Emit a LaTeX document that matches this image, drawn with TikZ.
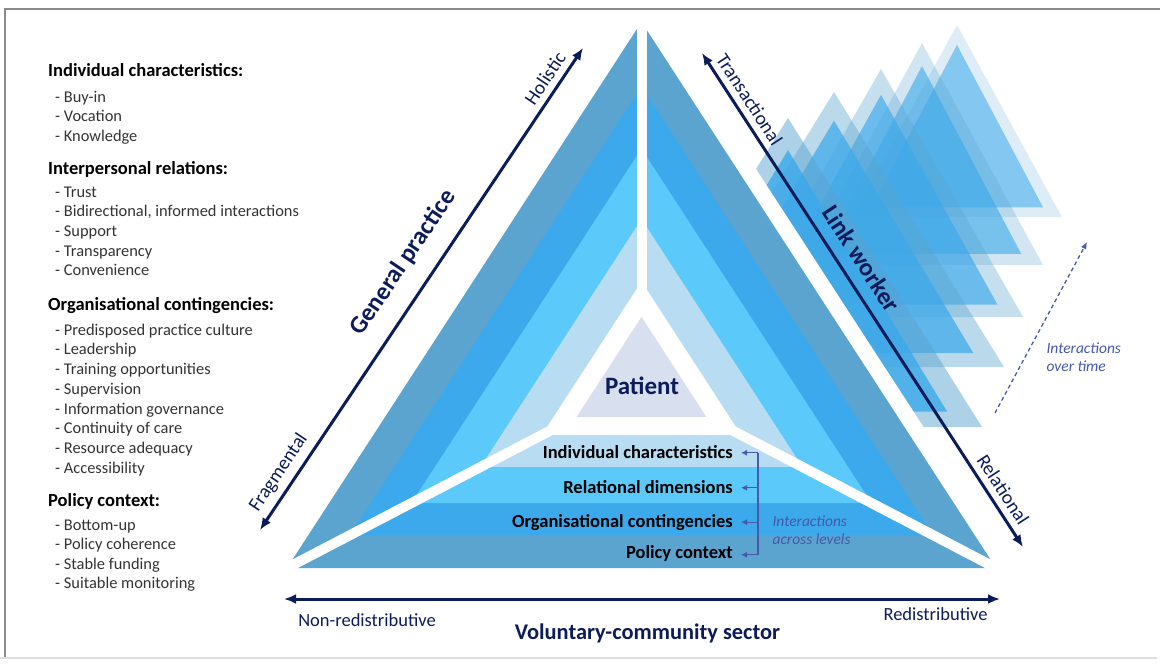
\documentclass[tikz,border=0pt]{standalone}
\usepackage{fontspec}
\setmainfont{Carlito}
\usepackage{tikz}
\usetikzlibrary{calc, positioning, arrows.meta}

\definecolor{navy}{HTML}{0C1C5A}
\definecolor{steel}{HTML}{5BA4CF}
\definecolor{bright}{HTML}{3BA9EB}
\definecolor{cyanband}{HTML}{5BC9F9}
\definecolor{pale}{HTML}{B8DCF2}
\definecolor{patientfill}{HTML}{D8DFEF}
\definecolor{softnavy}{HTML}{4759A8}
\definecolor{listgray}{HTML}{333333}
\definecolor{framegray}{HTML}{8C8C8C}

\tikzset{
  spectrum/.style={navy, line width=3pt, {Latex[length=12pt,width=10pt]}-{Latex[length=12pt,width=10pt]}},
  poletext/.style={navy, font=\fontsize{19.5}{22}\selectfont, sloped, above=#1},
  poletext/.default=3pt,
  sectortext/.style={navy, font=\bfseries\fontsize{25}{28}\selectfont, sloped, above=#1},
  sectortext/.default=8pt,
  sepline/.style={white, line width=10pt},
  bandlabel/.style={anchor=base east, inner sep=0pt, font=\bfseries\fontsize{18.5}{22}\selectfont},
  tie/.style={softnavy, line width=1.3pt},
  tiearrow/.style={tie, -{Latex[length=6pt,width=6pt]}, shorten >=8pt},
  remark/.style={softnavy, align=left, anchor=west, font=\itshape\fontsize{15.5}{18}\selectfont},
  listhead/.style={anchor=base west, inner sep=0pt, font=\bfseries\fontsize{18.5}{22}\selectfont},
  listitem/.style={anchor=base west, inner sep=0pt, text=listgray, font=\fontsize{16.4}{19.7}\selectfont},
  endtext/.style={navy, anchor=base, font=\fontsize{18.5}{22}\selectfont},
}

\begin{document}
\begin{tikzpicture}[x=1pt, y=-1pt]
\useasboundingbox (0,0) rectangle (1160,671);

% link worker contacts piling up over time
\foreach \gx/\gy/\gb/\gw/\go/\gi in {957/25/217/105/0.2/0.55, 922/43/265/121/0.28/0.6, 881/69/317/142/0.35/0.65, 834/92/367/170/0.42/0.72, 788/118/427/194/0.5/0.8}{
  \fill[steel, opacity=\go] (\gx,\gy) -- ({\gx+\gw},\gb) -- ({\gx-\gw},\gb) -- cycle;
  \fill[bright, opacity=\gi] (\gx,{\gy+0.104*(\gb-\gy)}) -- ({\gx+0.82*\gw},{\gb-0.05*(\gb-\gy)}) -- ({\gx-0.82*\gw},{\gb-0.05*(\gb-\gy)}) -- cycle;
}

% main triangle
\coordinate (A) at (641.5,22);
\coordinate (BL) at (287,568);
\coordinate (BR) at (996,568);
\coordinate (P) at (641.5,383);
\draw[white, line width=32pt, line join=round] (A) -- (BR) -- (BL) -- cycle;
\foreach \sc/\bandcol in {1/steel, 0.822/bright, 0.649/cyanband, 0.454/pale, 0.281/white}
  \fill[\bandcol] ($(P)!\sc!(A)$) -- ($(P)!\sc!(BR)$) -- ($(P)!\sc!(BL)$) -- cycle;
\draw[sepline] (A) -- (P);
\draw[sepline] (BL) -- (P);
\draw[sepline] (BR) -- (P);
\fill[patientfill] ($(P)!0.183!(A)$) -- ($(P)!0.183!(BR)$) -- ($(P)!0.183!(BL)$) -- cycle;
\node[navy, anchor=base, font=\bfseries\fontsize{25}{28}\selectfont] (patient) at (642,394) {Patient};

% levels
\node[bandlabel] (indiv) at (733,458.3) {Individual characteristics};
\node[bandlabel] (reldim) at (733,493.3) {Relational dimensions};
\node[bandlabel] (orgcon) at (733,527.7) {Organisational contingencies};
\node[bandlabel] (polcon) at (733,558.3) {Policy context};
\coordinate (br1) at ($(indiv.base east)+(25,-5.5)$);
\coordinate (br2) at ($(reldim.base east)+(25,-5.5)$);
\coordinate (br3) at ($(orgcon.base east)+(25,-5.5)$);
\coordinate (br4) at ($(polcon.base east)+(25,-3.5)$);
\draw[tie] (br1) -- (br4);
\draw[tiearrow] (br1) -- (br1 -| indiv.east);
\draw[tiearrow] (br2) -- (br2 -| reldim.east);
\draw[tiearrow] (br3) -- (br3 -| orgcon.east);
\draw[tiearrow] (br4) -- (br4 -| polcon.east);
\node[remark] (acrosslv) at (769,530) {Interactions\\across levels};

% the three axes
\coordinate (gpLo) at (260,530);
\coordinate (gpHi) at (583,48);
\coordinate (lwHi) at (702,53);
\coordinate (lwLo) at (1023,547);
\coordinate (vsL) at (284,599);
\coordinate (vsR) at (1000,599);
\draw[spectrum] (gpLo) -- node[poletext, pos=0.10] (fragm) {Fragmental}
  node[sectortext=14pt, pos=0.52] (genprac) {General practice}
  node[poletext, pos=0.92] (holis) {Holistic} (gpHi);
\draw[spectrum] (lwHi) -- node[poletext, pos=0.11] (transac) {Transactional}
  node[sectortext, pos=0.44] (linkw) {Link worker}
  node[poletext, pos=0.90] (relat) {Relational} (lwLo);
\draw[spectrum] (vsL) -- (vsR);
\node[endtext] (nonred) at (367,626) {Non-redistributive};
\node[endtext] (redis) at (935.5,620.7) {Redistributive};
\node[endtext, font=\bfseries\fontsize{22.4}{26}\selectfont] (vcs) at (647.5,639) {Voluntary-community sector};

% over time
\coordinate (tLo) at (995,413);
\coordinate (tHi) at (1087,242);
\draw[softnavy, line width=1.3pt, dash pattern=on 4pt off 3pt, -{Latex[length=7pt,width=6pt]}] (tLo) -- (tHi);
\node[remark] (overtime) at (1043,357) {Interactions\\over time};

% factor list
\node[listhead] (hd1) at (48,77) {Individual characteristics:};
\foreach \t [count=\i from 0] in {Buy-in, Vocation, Knowledge}
  \node[listitem] (ic-\i) at (55,{102.3+19.4*\i}) {- \t};
\node[listhead] (hd2) at (48,175) {Interpersonal relations:};
\foreach \t [count=\i from 0] in {Trust, {Bidirectional, informed interactions}, Support, Transparency, Convenience}
  \node[listitem] (ir-\i) at (55,{197.3+19.6*\i}) {- \t};
\node[listhead] (hd3) at (48,310.7) {Organisational contingencies:};
\foreach \t [count=\i from 0] in {Predisposed practice culture, Leadership, Training opportunities, Supervision, Information governance, Continuity of care, Resource adequacy, Accessibility}
  \node[listitem] (oc-\i) at (55,{335+19.75*\i}) {- \t};
\node[listhead] (hd4) at (48,506.7) {Policy context:};
\foreach \t [count=\i from 0] in {Bottom-up, Policy coherence, Stable funding, Suitable monitoring}
  \node[listitem] (pc-\i) at (55,{530+19.5*\i}) {- \t};

% frame
\draw[framegray, line width=1.5pt] (1160,9) -- (5,9) -- (5,658);
\draw[gray!25, line width=2pt] (0,658) -- (1157,658);
\end{tikzpicture}
\end{document}
